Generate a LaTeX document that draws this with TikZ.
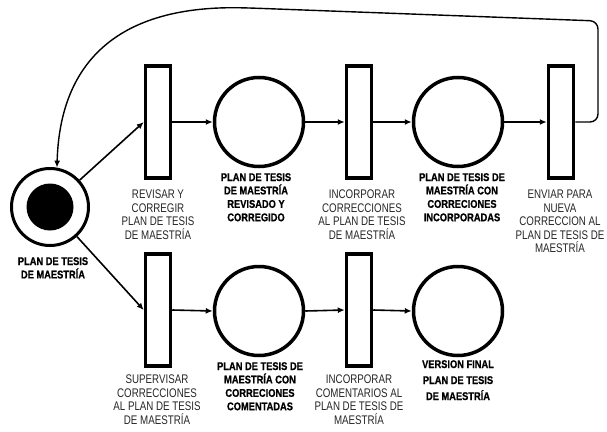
\documentclass[tikz,border=0pt]{standalone}
\usepackage{fontspec}
\setmainfont{Liberation Sans}
\newfontfamily\regfont{Liberation Sans}[FakeStretch=0.78]
\newfontfamily\boldfont{Liberation Sans}[FakeStretch=0.83, FakeBold=0.8]
\usetikzlibrary{arrows.meta}
\begin{document}
\begin{tikzpicture}[x=1pt,y=-1pt,
  trans/.style={draw, line width=3.5pt, minimum width=25pt, minimum height=112pt, inner sep=0pt},
  place/.style={draw, circle, line width=3.5pt, minimum size=89pt, inner sep=0pt},
  startp/.style={draw, circle, line width=3pt, minimum size=77pt, inner sep=0pt},
  dotp/.style={fill=black, circle, minimum size=47pt, inner sep=0pt},
  arr/.style={line width=1.6pt, -{Latex[length=7pt,width=6pt]}},
  loopline/.style={line width=1.4pt, rounded corners=8pt, -{Latex[length=7pt,width=6pt]}},
  tlabel/.style={anchor=north, align=center, inner sep=0pt, text=black!85, font=\regfont\fontsize{12.5}{13.4}\selectfont},
  plabel/.style={anchor=north, align=center, inner sep=0pt, font=\boldfont\bfseries\fontsize{11.2}{13.4}\selectfont}
]
\useasboundingbox (0,0) rectangle (607,431);

% start place
\node[startp] (S) at (50,207) {};
\node[dotp] (Sd) at (S) {};
\node[plabel] (Sl) at (53,257) {PLAN DE TESIS\\DE MAESTRÍA};

% top row
\node[trans] (T1) at (158,122) {};
\node[place] (P1) at (259,122) {};
\node[trans] (T2) at (359,122) {};
\node[place] (P2) at (458,122) {};
\node[trans] (T3) at (561,122) {};

% bottom row
\node[trans] (T4) at (158,310) {};
\node[place] (P3) at (259,311) {};
\node[trans] (T5) at (359,310) {};
\node[place] (P4) at (458,311) {};

% labels top
\node[tlabel] (T1l) at (158,190) {REVISAR Y\\CORREGIR\\PLAN DE TESIS\\DE MAESTRÍA};
\node[plabel] (P1l) at (256,173) {PLAN DE TESIS\\DE MAESTRÍA\\REVISADO Y\\CORREGIDO};
\node[tlabel] (T2l) at (362,190) {INCORPORAR\\CORRECCIONES\\AL PLAN DE TESIS\\DE MAESTRÍA};
\node[plabel] (P2l) at (462,173) {PLAN DE TESIS DE\\MAESTRÍA CON\\CORRECIONES\\INCORPORADAS};
\node[tlabel] (T3l) at (560,190) {ENVIAR PARA\\NUEVA\\CORRECCION AL\\PLAN DE TESIS DE\\MAESTRÍA};

% labels bottom
\node[tlabel] (T4l) at (157,375) {SUPERVISAR\\CORRECCIONES\\AL PLAN DE TESIS\\DE MAESTRÍA};
\node[plabel] (P3l) at (260,362) {PLAN DE TESIS DE\\MAESTRÍA CON\\CORRECIONES\\COMENTADAS};
\node[tlabel] (T5l) at (359,375) {INCORPORAR\\COMENTARIOS AL\\PLAN DE TESIS DE\\MAESTRÍA};
\node[plabel, font=\boldfont\bfseries\fontsize{11.2}{16}\selectfont] (P4l) at (458,360) {VERSION FINAL\\PLAN DE TESIS\\DE MAESTRÍA};

% arcs
\draw[arr] (S) -- (T1.west);
\draw[arr] (S) -- (T4.west);
\draw[arr] (T1.east) -- (P1.west);
\draw[arr] (P1.east) -- (T2.west);
\draw[arr] (T2.east) -- (P2.west);
\draw[arr] (P2.east) -- (T3.west);
\draw[arr] (T4.east) -- (P3.west);
\draw[arr] (P3.east) -- (T5.west);
\draw[arr] (T5.east) -- (P4.west);

% feedback loop
\draw[loopline] (T3.east) -- (598,122) -- (598,21) -- (250,8) .. controls (120,5) and (60,60) .. (S.80);
\end{tikzpicture}
\end{document}
